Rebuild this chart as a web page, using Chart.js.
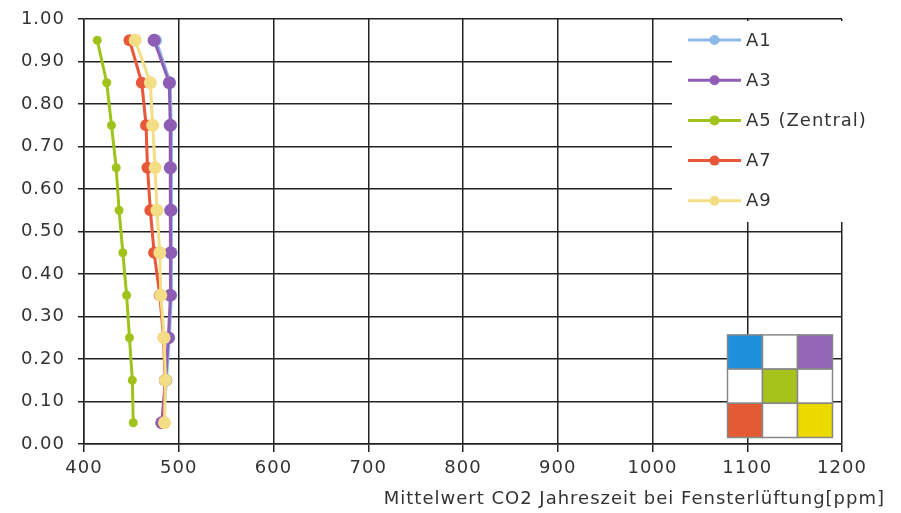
<!DOCTYPE html>
<html>
<head>
<meta charset="utf-8">
<title>Mittelwert CO2 Fensterlüftung</title>
<script src="https://cdn.jsdelivr.net/npm/chart.js@4.4.0/dist/chart.umd.min.js"></script>
<style>
    body { margin: 0; background: #fff; }
</style>
</head>
<body>
<canvas id="myChart" width="901" height="513"></canvas>
<script>
// Höhe (relativ) von oben nach unten
var hoehe = [0.95, 0.85, 0.75, 0.65, 0.55, 0.45, 0.35, 0.25, 0.15, 0.05];
// CO2 Mittelwerte [ppm] je Messpunkt
var a1 = [476, 491, 492, 492, 492.5, 492.5, 492, 490, 487, 483];
var a3 = [474, 490, 491, 491, 491.5, 491.5, 491, 489, 486, 482];
var a5 = [414, 424, 429, 434, 437, 441, 445, 448, 451, 452];
var a7 = [448, 461, 465.5, 467, 470, 474, 480, 484, 485.5, 484.5];
var a9 = [454, 470, 472.5, 475, 477, 480, 481, 484.5, 486, 485];
var namen = ['A1', 'A3', 'A5 (Zentral)', 'A7', 'A9'];
var xTicks = [400, 500, 600, 700, 800, 900, 1000, 1100, 1200];
var yTicks = [0, 0.1, 0.2, 0.3, 0.4, 0.5, 0.6, 0.7, 0.8, 0.9, 1.0];
var achsenTitel = 'Mittelwert CO2 Jahreszeit bei Fensterlüftung[ppm]';

function punkte(werte) {
    return werte.map(function (v, i) { return { x: v, y: hoehe[i] }; });
}

Chart.defaults.font.family = 'DejaVu Sans';
Chart.defaults.font.size = 18;
Chart.defaults.color = '#333';

// the original font is set a bit wider
var sperren = {
    id: 'sperren',
    beforeLayout: function (chart) { chart.ctx.letterSpacing = '1px'; },
    beforeDraw: function (chart) { chart.ctx.letterSpacing = '1px'; }
};

// legend box + little floor plan in the corner
var extras = {
    id: 'extras',
    afterDraw: function (chart) {
        var ctx = chart.ctx, ca = chart.chartArea;
        ctx.save();
        ctx.fillStyle = '#fff';
        ctx.fillRect(672, 21, 901 - 672, 201);
        ctx.font = '18px "DejaVu Sans"';
        ctx.textBaseline = 'middle';
        chart.data.datasets.forEach(function (ds, i) {
            var y = 40 + i * 40.2;
            ctx.strokeStyle = ds.borderColor;
            ctx.lineWidth = 3;
            ctx.beginPath();
            ctx.moveTo(688, y);
            ctx.lineTo(741, y);
            ctx.stroke();
            ctx.fillStyle = ds.borderColor;
            ctx.beginPath();
            ctx.arc(714.5, y, 5, 0, Math.PI * 2);
            ctx.fill();
            ctx.fillStyle = '#333';
            ctx.fillText(ds.label, 746, y + 1);
        });

        var farben = ['#1e90dc', '#fff', '#9366b8',
                      '#fff', '#a5c31b', '#fff',
                      '#e35a35', '#fff', '#ecd900'];
        var w = 35, h = 34.2;
        var x0 = ca.right - 9.5 - 3 * w, y0 = ca.bottom - 6.5 - 3 * h;
        ctx.strokeStyle = '#888';
        ctx.lineWidth = 1.5;
        farben.forEach(function (f, k) {
            var cx = x0 + (k % 3) * w, cy = y0 + Math.floor(k / 3) * h;
            ctx.fillStyle = f;
            ctx.fillRect(cx, cy, w, h);
            ctx.strokeRect(cx, cy, w, h);
        });
        ctx.restore();
    }
};

var ctx = document.getElementById('myChart').getContext('2d');
var chart = new Chart(ctx, {
    type: 'scatter',
    data: {
        datasets: [
            { label: namen[0], data: punkte(a1), borderColor: '#8bb9e8', backgroundColor: '#8bb9e8', pointRadius: 6, order: 4 },
            { label: namen[1], data: punkte(a3), borderColor: '#8f5db5', backgroundColor: '#8f5db5', pointRadius: 6.5, order: 3 },
            { label: namen[2], data: punkte(a5), borderColor: '#9fc31b', backgroundColor: '#9fc31b', pointRadius: 4.5, order: 2 },
            { label: namen[3], data: punkte(a7), borderColor: '#e8573a', backgroundColor: '#e8573a', pointRadius: 6, order: 1 },
            { label: namen[4], data: punkte(a9), borderColor: '#f3dd85', backgroundColor: '#f3dd85', pointRadius: 6.5, order: 0 }
        ]
    },
    options: {
        responsive: false,
        animation: false,
        devicePixelRatio: 1,
        showLine: true,
        elements: {
            line: { borderWidth: 3, tension: 0 },
            point: { borderWidth: 0, hoverRadius: 7 }
        },
        layout: { padding: { top: 19, left: 0, right: 16, bottom: 0 } },
        scales: {
            x: {
                type: 'linear', min: 400, max: 1200,
                afterBuildTicks: function (s) { s.ticks = xTicks.map(function (v) { return { value: v }; }); },
                afterFit: function (s) { s.height = 44.4; s.paddingLeft = 0; s.paddingRight = 0; },
                grid: { color: '#222', lineWidth: 1.5, tickLength: 8 },
                border: { color: '#222', width: 1.5 },
                ticks: { padding: 6, callback: function (v) { return String(v); } }
            },
            y: {
                type: 'linear', min: 0, max: 1,
                afterBuildTicks: function (s) { s.ticks = yTicks.map(function (v) { return { value: v }; }); },
                afterFit: function (s) { s.width = 84; s.paddingTop = 0; s.paddingBottom = 0; },
                grid: { color: '#222', lineWidth: 1.5, tickLength: 6 },
                border: { color: '#222', width: 1.5 },
                ticks: { padding: 13, callback: function (v) { return Number(v).toFixed(2); } }
            },
            rechts: {
                type: 'linear', position: 'right', display: true,
                afterFit: function (s) { s.width = 43; s.paddingTop = 0; s.paddingBottom = 0; },
                grid: { display: false },
                border: { display: false },
                ticks: { display: false }
            }
        },
        plugins: {
            legend: { display: false },
            tooltip: { enabled: false },
            title: {
                display: true, text: achsenTitel, position: 'bottom', align: 'end',
                color: '#333', font: { size: 18, weight: 'normal' },
                padding: { top: 0, bottom: 3 }
            }
        }
    },
    plugins: [sperren, extras]
});
</script>
</body>
</html>
